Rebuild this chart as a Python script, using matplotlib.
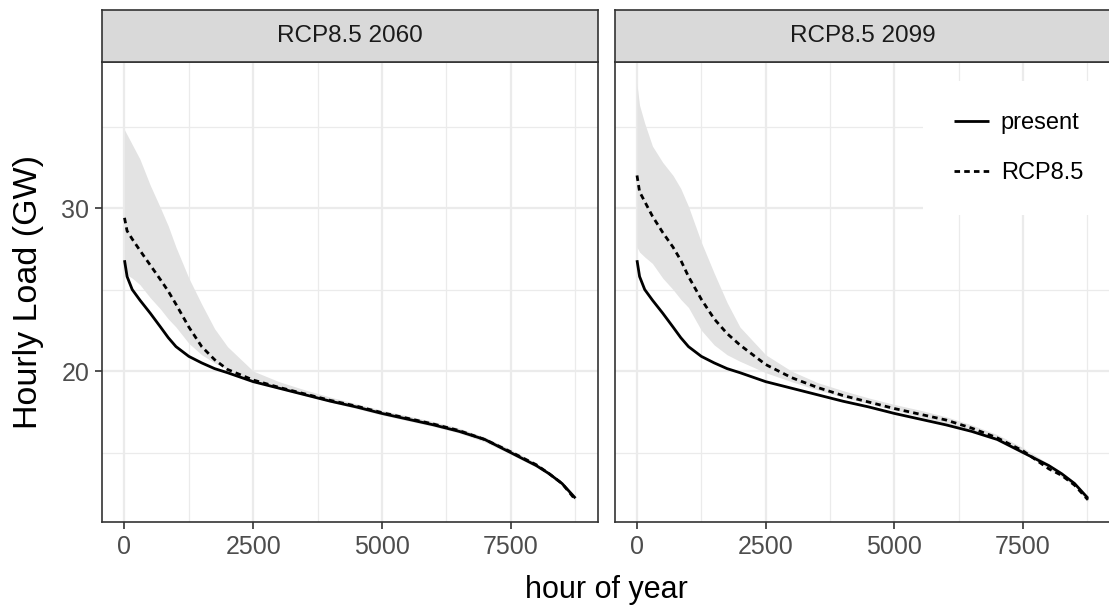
import matplotlib
matplotlib.use("Agg")
import matplotlib.pyplot as plt
from matplotlib.ticker import FixedLocator

plt.rcParams['font.family'] = ['Liberation Sans', 'DejaVu Sans']

# ---------------- data ----------------
panels = ["RCP8.5 2060", "RCP8.5 2099"]
hours = [0, 50, 150, 300, 500, 700, 850, 1000, 1250, 1500, 1750, 2000, 2500, 3000, 3500,
         4000, 4500, 5000, 5500, 6000, 6500, 7000, 7500, 8000, 8250, 8500, 8760]

present = [26.8, 25.8, 25.0, 24.35, 23.55, 22.7, 22.05, 21.5, 20.9, 20.5, 20.15, 19.9, 19.35,
           18.95, 18.55, 18.15, 17.8, 17.4, 17.05, 16.7, 16.3, 15.8, 15.0, 14.2, 13.7, 13.1, 12.2]

rcp_2060 = [29.4, 28.6, 28.1, 27.4, 26.5, 25.6, 24.9, 24.1, 22.7, 21.5, 20.7, 20.1, 19.45,
            19.0, 18.6, 18.2, 17.85, 17.45, 17.1, 16.75, 16.35, 15.8, 15.05, 14.25, 13.7, 13.1, 12.1]
upper_2060 = [34.8, 34.5, 33.9, 33.0, 31.4, 30.0, 28.9, 27.6, 25.7, 24.1, 22.6, 21.5, 20.0,
              19.35, 18.85, 18.4, 18.0, 17.6, 17.25, 16.9, 16.5, 15.95, 15.2, 14.35, 13.8, 13.2, 12.2]
lower_2060 = [26.2, 25.9, 25.7, 25.3, 24.5, 23.8, 23.2, 22.7, 21.7, 21.0, 20.5, 20.1, 19.35,
              18.9, 18.5, 18.1, 17.7, 17.3, 16.95, 16.6, 16.2, 15.65, 14.9, 14.1, 13.6, 13.0, 12.05]

rcp_2099 = [32.0, 31.0, 30.4, 29.5, 28.5, 27.6, 26.8, 25.8, 24.4, 23.2, 22.3, 21.6, 20.4,
            19.6, 19.0, 18.5, 18.1, 17.7, 17.35, 17.0, 16.5, 15.9, 15.1, 14.0, 13.6, 13.0, 12.1]
upper_2099 = [37.6, 36.3, 35.2, 33.8, 32.8, 32.0, 31.2, 30.1, 27.9, 26.0, 24.2, 22.7, 21.0,
              20.0, 19.3, 18.8, 18.35, 17.95, 17.6, 17.2, 16.7, 16.1, 15.3, 14.3, 13.8, 13.2, 12.2]
lower_2099 = [27.6, 27.3, 27.0, 26.6, 25.7, 25.0, 24.4, 23.9, 22.5, 21.6, 21.0, 20.6, 19.9,
              19.35, 18.85, 18.4, 18.0, 17.6, 17.2, 16.8, 16.4, 15.8, 15.0, 14.0, 13.5, 12.95, 12.0]

x_ticks = [0, 2500, 5000, 7500]
y_ticks = [20, 30]
legend_labels = ["present", "RCP8.5"]

rcp_series = [rcp_2060, rcp_2099]
upper_series = [upper_2060, upper_2099]
lower_series = [lower_2060, lower_2099]

# ---------------- layout ----------------
W, H = 1109, 610
fig = plt.figure(figsize=(W / 100, H / 100), dpi=100)

def fx(px):
    return px / W

def fy(py):
    return 1 - py / H

panel_left = [102, 614.5]
panel_w = 496
top, bottom = 62, 522
strip_top = 10

grid_major = '#ebebeb'
border_col = '#333333'
ribbon_col = '#e3e3e3'

axes = []
for i, name in enumerate(panels):
    ax = fig.add_axes([fx(panel_left[i]), fy(bottom), fx(panel_w), (bottom - top) / H])
    axes.append(ax)
    ax.set_xlim(-437, 9198)
    ax.set_ylim(10.74, 38.96)
    ax.xaxis.set_major_locator(FixedLocator(x_ticks))
    ax.xaxis.set_minor_locator(FixedLocator([1250, 3750, 6250, 8750]))
    ax.yaxis.set_major_locator(FixedLocator(y_ticks))
    ax.yaxis.set_minor_locator(FixedLocator([15, 25, 35]))
    ax.grid(which='major', color=grid_major, lw=1.6, zorder=0)
    ax.grid(which='minor', color=grid_major, lw=0.9, zorder=0)
    ax.set_axisbelow(True)
    for s in ax.spines.values():
        s.set_color(border_col)
        s.set_linewidth(1.2)
    ax.tick_params(which='major', length=5, width=1.2, color=border_col,
                   labelsize=18, labelcolor='#4d4d4d', pad=4)
    ax.tick_params(which='minor', length=0)
    if i == 1:
        ax.tick_params(axis='y', which='both', left=False, labelleft=False)

    ax.fill_between(hours, lower_series[i], upper_series[i], color=ribbon_col, lw=0, zorder=1)
    ax.plot(hours, present, color='black', lw=2.0, solid_capstyle='butt',
            solid_joinstyle='round', label=legend_labels[0], zorder=3)
    ax.plot(hours, rcp_series[i], color='black', lw=2.0, ls=(0, (2.0, 1.5)),
            label=legend_labels[1], zorder=3)

    # strip
    sax = fig.add_axes([fx(panel_left[i]), fy(top), fx(panel_w), (top - strip_top) / H])
    sax.set_xticks([])
    sax.set_yticks([])
    sax.set_facecolor('#d9d9d9')
    for s in sax.spines.values():
        s.set_color(border_col)
        s.set_linewidth(1.2)
    sax.text(0.5, 0.5, name, ha='center', va='center', fontsize=17.5, color='#1a1a1a',
             transform=sax.transAxes)

leg = axes[1].legend(loc='upper left', bbox_to_anchor=(0.622, 0.958), frameon=True,
                     fontsize=17, handlelength=1.5, handletextpad=0.5,
                     labelspacing=1.2, borderpad=1.3, borderaxespad=0)
leg.get_frame().set_facecolor('white')
leg.get_frame().set_edgecolor('none')
leg.get_frame().set_alpha(1)
leg.get_frame().set_boxstyle('square', pad=0)

fig.text(fx(606), fy(590), "hour of year", ha='center', va='center', fontsize=22, color='black')
fig.text(fx(29), fy(292), "Hourly Load (GW)", ha='center', va='center', rotation=90,
         fontsize=24.5, color='black')

fig.savefig("out.png", dpi=100)
